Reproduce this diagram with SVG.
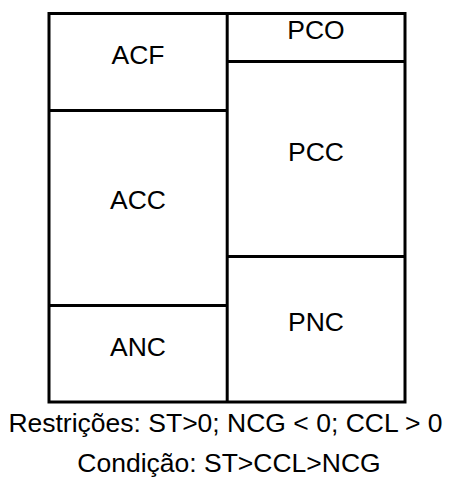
<svg xmlns="http://www.w3.org/2000/svg" width="449" height="479" viewBox="0 0 449 479">
<style>
.box{fill:none;stroke:#000;stroke-width:3}
.lbl{font-family:"Liberation Sans",Arial,sans-serif;font-size:26.5px;fill:#000;text-anchor:middle}
</style>
<rect width="449" height="479" fill="#fff"/>
<g id="frame">
<rect class="box" x="49" y="13.5" width="356" height="388.5"/>
<line class="box" x1="227.2" y1="13.5" x2="227.2" y2="402"/>
</g>
<g id="ACF"><line class="box" x1="49" y1="110.5" x2="227.2" y2="110.5"/><text class="lbl" x="138" y="64">ACF</text></g>
<g id="ACC"><line class="box" x1="49" y1="305.5" x2="227.2" y2="305.5"/><text class="lbl" x="138" y="209">ACC</text></g>
<g id="ANC"><text class="lbl" x="138" y="355.5">ANC</text></g>
<g id="PCO"><line class="box" x1="227.2" y1="61.5" x2="405" y2="61.5"/><text class="lbl" x="316" y="38.5">PCO</text></g>
<g id="PCC"><line class="box" x1="227.2" y1="256.5" x2="405" y2="256.5"/><text class="lbl" x="316" y="161">PCC</text></g>
<g id="PNC"><text class="lbl" x="316" y="330.5">PNC</text></g>
<g id="notes">
<text class="lbl" x="225.5" y="432">Restrições: ST&gt;0; NCG &lt; 0; CCL &gt; 0</text>
<text class="lbl" x="229" y="472">Condição: ST&gt;CCL&gt;NCG</text>
</g>
</svg>
